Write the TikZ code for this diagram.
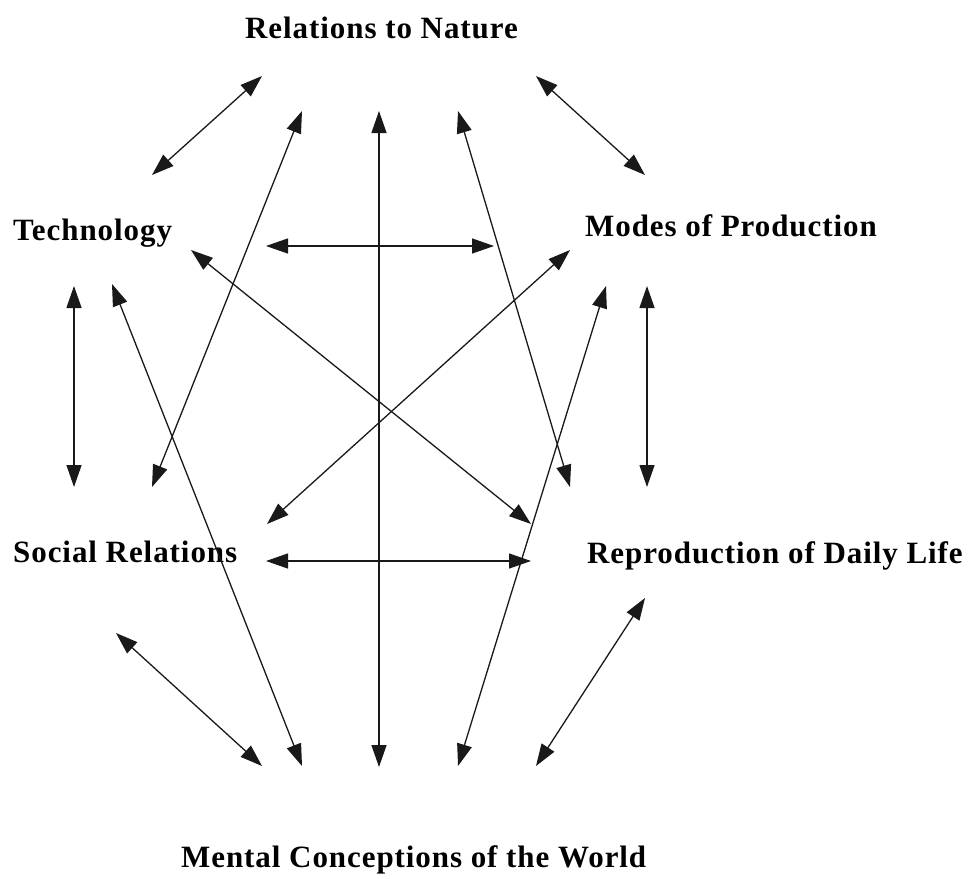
\documentclass[tikz,border=0pt]{standalone}
\usepackage{fontspec}
\usetikzlibrary{arrows.meta}
\newfontfamily\labelfont{Liberation Serif}[LetterSpace=3]

\begin{document}
\begin{tikzpicture}[x=1pt,y=-1pt,
  lbl/.style={inner sep=0pt, anchor=base west,
    font=\labelfont\bfseries\fontsize{31}{36}\selectfont},
  link/.style={line width=1.3pt, draw=black!90,
    {Triangle[length=22pt,width=15pt]}-{Triangle[length=22pt,width=15pt]}}]
\useasboundingbox (0,0) rectangle (979,878);

% category labels
\node[lbl] (nature) at (245,38)  {Relations to Nature};
\node[lbl] (tech)   at (13,240)  {Technology};
\node[lbl] (modes)  at (585,236) {Modes of Production};
\node[lbl] (social) at (13,562)  {Social Relations};
\node[lbl] (repro)  at (587,563) {Reproduction of Daily Life};
\node[lbl] (mental) at (181,867) {Mental Conceptions of the World};

% arrow end points
\coordinate (nt1) at (262,76);  \coordinate (nt2) at (152,175);
\coordinate (ns1) at (302,111); \coordinate (ns2) at (152,487);
\coordinate (nm1) at (379,111); \coordinate (nm2) at (379,767);
\coordinate (nr1) at (458,111); \coordinate (nr2) at (570,487);
\coordinate (np1) at (536,76);  \coordinate (np2) at (645,175);
\coordinate (tp1) at (266,246); \coordinate (tp2) at (494,246);
\coordinate (tr1) at (191,250); \coordinate (tr2) at (531,524);
\coordinate (ps1) at (570,250); \coordinate (ps2) at (267,524);
\coordinate (ts1) at (74,286);  \coordinate (ts2) at (74,487);
\coordinate (pr1) at (647,286); \coordinate (pr2) at (647,487);
\coordinate (tm1) at (112,284); \coordinate (tm2) at (302,766);
\coordinate (pm1) at (606,286); \coordinate (pm2) at (458,766);
\coordinate (sr1) at (266,561); \coordinate (sr2) at (531,561);
\coordinate (sm1) at (116,633); \coordinate (sm2) at (262,766);
\coordinate (rm1) at (645,598); \coordinate (rm2) at (536,766);

% two-way links
\draw[link] (nt1) -- (nt2);
\draw[link] (ns1) -- (ns2);
\draw[link] (nm1) -- (nm2);
\draw[link] (nr1) -- (nr2);
\draw[link] (np1) -- (np2);
\draw[link] (tp1) -- (tp2);
\draw[link] (tr1) -- (tr2);
\draw[link] (ps1) -- (ps2);
\draw[link] (ts1) -- (ts2);
\draw[link] (pr1) -- (pr2);
\draw[link] (tm1) -- (tm2);
\draw[link] (pm1) -- (pm2);
\draw[link] (sr1) -- (sr2);
\draw[link] (sm1) -- (sm2);
\draw[link] (rm1) -- (rm2);
\end{tikzpicture}
\end{document}
